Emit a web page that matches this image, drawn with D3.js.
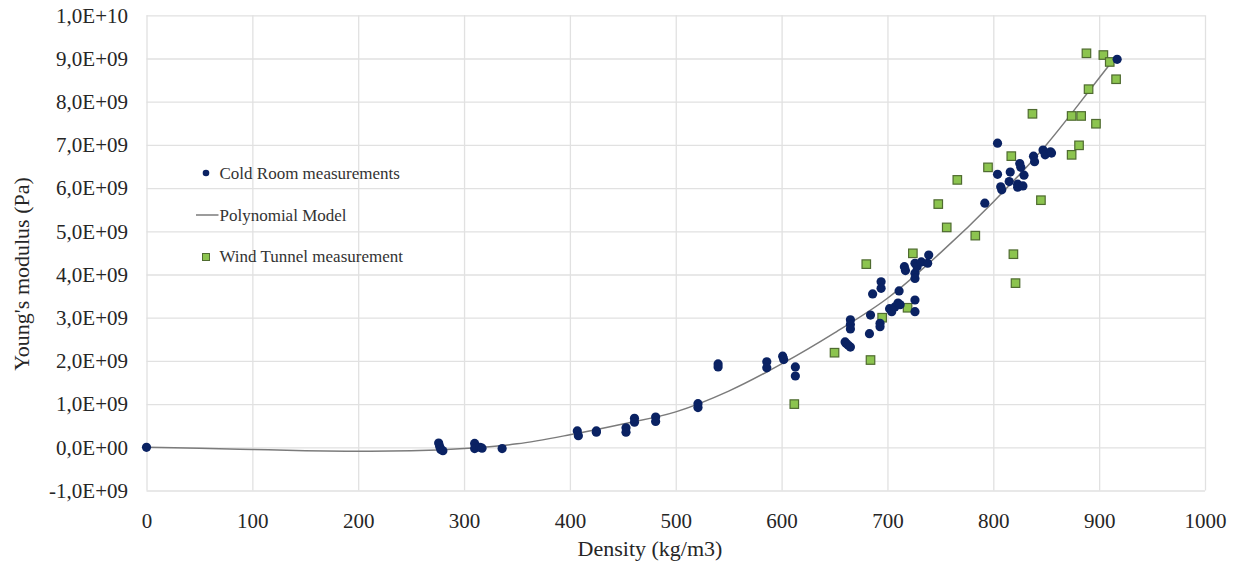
<!DOCTYPE html>
<html>
<head>
<meta charset="utf-8">
<script src="https://d3js.org/d3.v7.min.js"></script>
<style>
body { margin: 0; background: #fff; }
.grid line { stroke: #e1e1e1; stroke-width: 1.3; }
.grid .domain { display: none; }
</style>
</head>
<body>
<div id="chart"></div>
<script>
// density (kg/m3) / Young's modulus in units of 1E9 Pa
const coldX = [0, 276, 277, 278, 280, 310, 310, 315, 317, 336,
  407, 408, 425, 425, 453, 453, 461, 461, 481, 481, 521, 521,
  540, 540, 586, 586, 601, 602, 613, 613,
  660, 661, 663, 665, 665, 665, 665, 683, 684, 686, 694, 694, 693, 693,
  702, 704, 707, 710, 712, 711, 716, 717, 726, 726, 726, 728, 726, 726,
  732, 738, 739, 792, 804, 804, 807, 808, 816, 815, 823, 823, 828,
  825, 826, 829, 838, 839, 847, 849, 854, 855, 917];
const coldY = [0, 0.10, 0.02, -0.05, -0.08, 0.09, -0.03, 0.0, -0.02, -0.03,
  0.38, 0.27, 0.35, 0.38, 0.45, 0.35, 0.67, 0.58, 0.70, 0.60, 1.01, 0.92,
  1.93, 1.86, 1.98, 1.84, 2.11, 2.03, 1.86, 1.65,
  2.44, 2.40, 2.36, 2.32, 2.95, 2.84, 2.74, 2.63, 3.06, 3.55, 3.83, 3.68, 2.87, 2.79,
  3.21, 3.14, 3.25, 3.34, 3.30, 3.62, 4.18, 4.09, 4.03, 3.91, 4.26, 4.18, 3.41, 3.14,
  4.29, 4.26, 4.45, 5.65, 7.04, 6.32, 6.03, 5.96, 6.37, 6.15, 6.09, 6.02, 6.05,
  6.57, 6.48, 6.30, 6.74, 6.61, 6.88, 6.77, 6.84, 6.81, 8.98];

const windX = [612, 650, 684, 680, 695, 719, 724, 748, 756, 766, 783, 795,
  817, 819, 821, 837, 845, 874, 881, 874, 883, 897, 890, 888, 904, 910, 916];
const windY = [1.00, 2.19, 2.02, 4.24, 3.00, 3.23, 4.49, 5.63, 5.09, 6.19, 4.90, 6.48,
  6.74, 4.47, 3.80, 7.72, 5.72, 6.77, 6.99, 7.67, 7.67, 7.49, 8.29, 9.12, 9.08, 8.92, 8.52];

const modelX = [0, 50, 100, 150, 200, 250, 300, 350, 400, 450, 500, 550, 600, 650, 700, 750, 800, 850, 900, 916];
const modelY = [0, -0.02, -0.05, -0.08, -0.09, -0.08, -0.03, 0.08, 0.29, 0.54, 0.82, 1.30, 1.93, 2.65, 3.45, 4.50, 5.68, 7.00, 8.55, 9.05];

const xTicks = [0, 100, 200, 300, 400, 500, 600, 700, 800, 900, 1000];
const yTicks = [-1, 0, 1, 2, 3, 4, 5, 6, 7, 8, 9, 10];
const yTickLabels = ["-1,0E+09", "0,0E+00", "1,0E+09", "2,0E+09", "3,0E+09", "4,0E+09",
  "5,0E+09", "6,0E+09", "7,0E+09", "8,0E+09", "9,0E+09", "1,0E+10"];

const serif = "'Liberation Serif', 'Times New Roman', 'DejaVu Serif', serif";
const width = 1235, height = 562;
const margin = {left: 146.5, top: 15.3};
const plotW = 1058.5, plotH = 475.2;

const svg = d3.select("#chart").append("svg")
    .attr("width", width)
    .attr("height", height);

const g = svg.append("g")
    .attr("transform", "translate(" + margin.left + "," + margin.top + ")");

const x = d3.scaleLinear().domain([0, 1000]).range([0, plotW]);
const y = d3.scaleLinear().domain([-1, 10]).range([plotH, 0]);

g.append("g")
    .attr("class", "grid")
    .attr("transform", "translate(0," + plotH + ")")
    .call(d3.axisBottom(x).tickValues(xTicks).tickSize(-plotH).tickPadding(22.5).tickFormat(d3.format("d")));

g.append("g")
    .attr("class", "grid")
    .call(d3.axisLeft(y).tickValues(yTicks).tickSize(-plotW).tickPadding(18.5)
        .tickFormat((d, i) => yTickLabels[i]));

g.selectAll(".grid").attr("font-family", serif).attr("font-size", 21);
g.selectAll(".grid text").attr("fill", "#262626");

// polynomial model
const line = d3.line()
    .x((d, i) => x(modelX[i]))
    .y((d, i) => y(modelY[i]))
    .curve(d3.curveMonotoneX);

g.append("path")
    .datum(modelX)
    .attr("d", line)
    .attr("fill", "none")
    .attr("stroke", "#7b7b7b")
    .attr("stroke-width", 1.5);

// wind tunnel squares
const sq = 8.5;
g.selectAll("rect.wind")
    .data(windX)
    .enter().append("rect")
    .attr("class", "wind")
    .attr("x", (d, i) => x(d) - sq / 2)
    .attr("y", (d, i) => y(windY[i]) - sq / 2)
    .attr("width", sq)
    .attr("height", sq)
    .attr("fill", "#8cc44f")
    .attr("stroke", "#4f6b30")
    .attr("stroke-width", 1.2);

// cold room circles
g.selectAll("circle.cold")
    .data(coldX)
    .enter().append("circle")
    .attr("class", "cold")
    .attr("cx", d => x(d))
    .attr("cy", (d, i) => y(coldY[i]))
    .attr("r", 4.6)
    .attr("fill", "#0a2263");

// axis titles
svg.append("text")
    .attr("x", 650)
    .attr("y", 556)
    .attr("text-anchor", "middle")
    .attr("font-family", serif)
    .attr("font-size", 22)
    .attr("fill", "#262626")
    .text("Density (kg/m3)");

svg.append("text")
    .attr("transform", "translate(29,274) rotate(-90)")
    .attr("text-anchor", "middle")
    .attr("font-family", serif)
    .attr("font-size", 22)
    .attr("fill", "#262626")
    .text("Young's modulus (Pa)");

// legend
const leg = svg.append("g")
    .attr("font-family", serif)
    .attr("font-size", 17)
    .attr("fill", "#333");
leg.append("circle").attr("cx", 206).attr("cy", 173).attr("r", 3.3).attr("fill", "#0a2263");
leg.append("text").attr("x", 219.5).attr("y", 179).text("Cold Room measurements");
leg.append("line").attr("x1", 196).attr("x2", 218.5).attr("y1", 215).attr("y2", 215)
    .attr("stroke", "#7b7b7b").attr("stroke-width", 1.5);
leg.append("text").attr("x", 219.5).attr("y", 221).text("Polynomial Model");
leg.append("rect").attr("x", 202.5).attr("y", 253.5).attr("width", 7).attr("height", 7)
    .attr("fill", "#8cc44f").attr("stroke", "#4f6b30").attr("stroke-width", 1);
leg.append("text").attr("x", 219.5).attr("y", 262).text("Wind Tunnel measurement");
</script>
</body>
</html>
